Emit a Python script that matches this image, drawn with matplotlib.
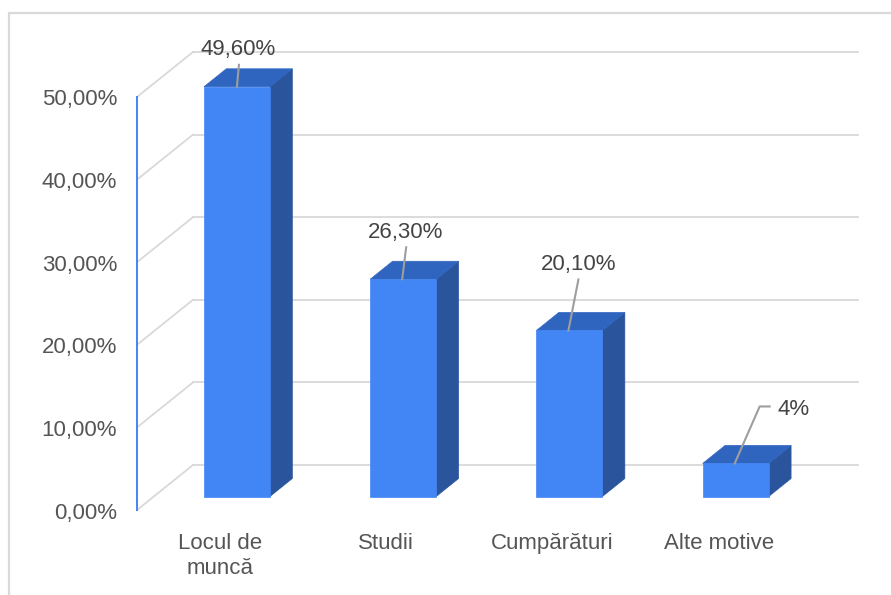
import matplotlib
matplotlib.use("Agg")
import matplotlib.pyplot as plt
from matplotlib.patches import Polygon, Rectangle

categories = ["Locul de\nmuncă", "Studii", "Cumpărături", "Alte motive"]
values = [49.6, 26.3, 20.1, 4.0]
value_labels = ["49,60%", "26,30%", "20,10%", "4%"]
yticks = [0, 10, 20, 30, 40, 50]
ytick_labels = ["0,00%", "10,00%", "20,00%", "30,00%", "40,00%", "50,00%"]

plt.rcParams['font.family'] = ['Liberation Sans', 'DejaVu Sans']

W, H = 891, 595
fig = plt.figure(figsize=(W / 100, H / 100), dpi=100)
fig.patch.set_facecolor("white")

# outer border (only top/left visible)
fig.add_artist(Rectangle((9 / W, -0.1), 1.2, (595 - 13) / H + 0.1, transform=fig.transFigure,
                         fill=False, edgecolor="#d9d9d9", linewidth=1.6))

# axes: front plane
ax_left, ax_right = 137, 802
ax_bot, ax_top = 510, 97
ax = fig.add_axes([ax_left / W, (H - ax_bot) / H, (ax_right - ax_left) / W, (ax_bot - ax_top) / H])
ax.set_xlim(-0.5, len(categories) - 0.5)
ax.set_ylim(0, 50)
ax.axis("off")

px_x = (ax_right - ax_left) / len(categories)
px_y = (ax_bot - ax_top) / 50.0
DX = 56 / px_x      # depth shift in data units (x)
DY = 45 / px_y      # depth shift in data units (y)

grid_c = "#d9d9d9"
x0, x1 = -0.5, len(categories) - 0.5
for t in yticks:
    ax.plot([x0 + DX, x1 + DX], [t + DY, t + DY], color=grid_c, lw=1.3, clip_on=False, zorder=1)
    ax.plot([x0, x0 + DX], [t, t + DY], color=grid_c, lw=1.3, clip_on=False, zorder=1)
ax.plot([x0, x0], [0, 50], color="#4285f4", lw=1.4, clip_on=False, zorder=2)

FS = 16
for t, lab in zip(yticks, ytick_labels):
    ax.annotate(lab, (x0, t), xytext=(-20, -3), textcoords="offset pixels",
                ha="right", va="center", fontsize=FS, color="#555555",
                annotation_clip=False)

# 3D bars
d_front, d_back = 0.3, 0.7
bw = 66 / px_x
front_c, top_c, side_c = "#4285f4", "#3065bf", "#2a549c"
anchors = []
for i, v in enumerate(values):
    fx = i + d_front * DX
    fy = d_front * DY
    bx = i + d_back * DX
    by = d_back * DY
    l, r = fx - bw / 2, fx + bw / 2
    lb, rb = bx - bw / 2, bx + bw / 2
    ax.add_patch(Polygon([(r, fy), (rb, by), (rb, by + v), (r, fy + v)], closed=True,
                         facecolor=side_c, edgecolor=side_c, lw=0.5, clip_on=False, zorder=3))
    ax.add_patch(Polygon([(l, fy + v), (r, fy + v), (rb, by + v), (lb, by + v)], closed=True,
                         facecolor=top_c, edgecolor=top_c, lw=0.5, clip_on=False, zorder=3))
    ax.add_patch(Polygon([(l, fy), (r, fy), (r, fy + v), (l, fy + v)], closed=True,
                         facecolor=front_c, edgecolor=front_c, lw=0.5, clip_on=False, zorder=4))
    anchors.append((fx, fy + v))

# category labels (front plane)
for i, c in enumerate(categories):
    ax.annotate(c, (i, 0), xytext=(0, -23), textcoords="offset pixels",
                ha="center", va="top", fontsize=FS, color="#555555", linespacing=1.22,
                annotation_clip=False)

# data labels with leader lines (pixel offsets from anchor)
leaders = [
    [(0, 0), (2, 22)],
    [(-1, 0), (3, 32)],
    [(-1, 0), (9, 51)],
    [(-1, 0), (24, 57), (34, 57)],
]
text_pos = [((1, 37), "center"), ((2, 47), "center"), ((9, 66), "center"), ((42, 54), "left")]
inv = ax.transData.inverted()
for (ax_x, ax_y), pts, ((tx, ty), ha), lab in zip(anchors, leaders, text_pos, value_labels):
    sx, sy = ax.transData.transform((ax_x, ax_y))
    dpts = [inv.transform((sx + p[0], sy + p[1])) for p in pts]
    ax.plot([p[0] for p in dpts], [p[1] for p in dpts], color="#9e9e9e", lw=1.5,
            clip_on=False, zorder=5)
    ax.annotate(lab, (ax_x, ax_y), xytext=(tx, ty), textcoords="offset pixels",
                ha=ha, va="center", fontsize=FS, color="#444444", annotation_clip=False)

fig.savefig("out.png", dpi=100, facecolor="white")
